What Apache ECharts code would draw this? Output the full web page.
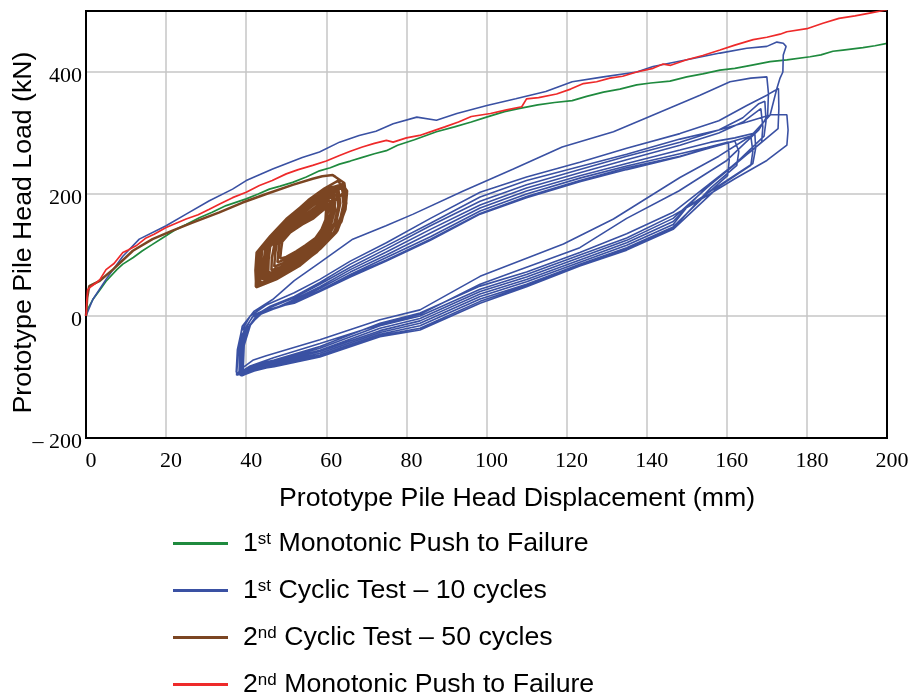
<!DOCTYPE html>
<html><head><meta charset="utf-8">
<script src="https://cdn.jsdelivr.net/npm/echarts@6/dist/echarts.min.js"></script>
<style>html,body{margin:0;padding:0;background:#fff}#c{width:911px;height:694px}</style>
</head><body><div id="c"></div>
<script>
// ---- data (displacement mm, load kN) ----
const seriesNames = ['1st Monotonic Push to Failure', '1st Cyclic Test \u2013 10 cycles', '2nd Cyclic Test \u2013 50 cycles', '2nd Monotonic Push to Failure'];
const xTickValues = [0,20,40,60,80,100,120,140,160,180,200];
const yTickValues = [-200,0,200,400];

const mono1 = [[0,0],[0.5,12],[1.7,27],[3.5,43],[5,57],[7.7,76],[9.2,85],[11.8,96],[14.1,107],[16.5,117],[19.1,128],[22.5,142],[25,150],[28.3,161],[31.5,170],[35,181],[40,192],[43,200],[45.8,208],[48.5,213],[51.6,219],[55,228],[58.3,238],[61,243],[63.3,249],[66,254],[69,260],[72,266],[75,271],[77.8,280],[82,289],[87.5,302],[92,310],[96.2,318],[100,326],[104.5,335],[108,340],[112.8,346],[117,350],[121.4,353],[125,360],[129.2,367],[133.3,372],[137.5,379],[141,382],[145.8,385],[150,392],[154,397],[158.3,403],[162,406],[166,411],[170.8,417],[175,420],[180.8,425],[183.5,428],[186.5,434],[189,436],[191.5,438],[194,440],[197,443],[200,447]];

const mono2 = [[0,0],[0.2,25],[0.4,43],[1.2,48],[2.5,54],[3.5,60],[5,76],[7,86],[9.2,104],[10.5,108],[12.5,115],[15,128],[17,134],[20,145],[22.5,152],[25,159],[28,166],[30.8,175],[33.5,184],[36.6,194],[40,203],[43.3,214],[46.5,222],[50,233],[53,240],[56.6,247],[60,254],[63.3,263],[66,270],[69,277],[72,283],[75,288],[76.7,285],[80,292],[83.3,296],[86.5,303],[89.6,310],[93,318],[96.2,327],[101,332],[105,338],[108.8,343],[110,356],[113,358],[117.5,364],[121,372],[124.2,381],[127.5,384],[130.8,390],[134,393],[137.5,400],[141.6,406],[144.1,413],[146,411],[150,420],[154,427],[158.3,436],[162,444],[166.6,453],[170,457],[173.3,462],[175,466],[180,471],[184,480],[188,488],[192,492],[196,497],[200,502]];

const cyclic1 = [
[0,0],[1.7,27],[5,60],[9.2,98],[13.3,126],[20,148],[25,167],[30.8,189],[36.6,208],[40,222],[46.6,241],[54,260],[58.3,269],[63.3,285],[68.2,296],[72.4,303],[76.7,315],[82.6,326],[87.5,321],[92.6,332],[100.1,345],[107.3,356],[114.8,368],[121.4,384],[129.2,392],[137.5,400],[141.6,409],[150,420],[158.3,431],[165,439],[170,442],[172.5,449],[174.1,447],[174.8,442],[174.1,428],[174,400],[173.3,390],[172.5,373],[170.8,329],
[166,295],[158,262],[148.3,227],[131.7,159],[119.2,118],[98.4,65],[83.4,10],[73.4,-6],[58.4,-39],[45,-65],[41.8,-72],[38.5,-88],[37.6,-97],
[37.8,-60],[38.5,-35],[39,-17],[42,8],[46.6,27],[52,58],[58.3,87],[66.6,126],[74.9,148],[81.7,167],[94.2,205],[106.7,241],[118.9,277],[131.7,302],[140,325],[153.3,362],[160.8,384],[166,390],[170,392],[170.4,365],[170.2,329],[168,305],
[160,255],[148,205],[135,160],[123.3,112],[110,80],[98.4,52],[83.4,3],[73.4,-14],[58.4,-45],[47,-68],[41,-82],[38,-94],
[37.5,-92],[37.8,-55],[38.8,-25],[41,0],[45,18],[52,38],[58.4,60],[66,90],[75,120],[86,160],[98.4,203],[110,228],[123.3,252],[135,275],[148.3,299],[158,320],[165,345],[170,362],[172.9,373],[173,340],[172.8,307],
[166,270],[158.3,230],[146.6,170],[135,135],[123.3,104],[110,72],[98.4,49],[83.4,5],[73.4,-12],[58.4,-50],[47,-72],[42,-80],[38.5,-95],
[37.6,-97],[38,-60],[39,-30],[41.5,-2],[46,16],[52,32],[58.4,55],[66,85],[75,115],[86,152],[98.4,195],[110,222],[123.3,245],[135,265],[148.3,290],[158,305],[165,318],[171,330],[175,330],[175.3,305],[175,280],
[170,255],[162,225],[152,185],[146.6,165],[135,128],[123.3,100],[110,68],[98.4,44],[83.4,0],[73.4,-16],[58.4,-53],[47,-74],[42,-82],[38.2,-96],
[38,-94],[38.4,-55],[39.5,-22],[42,2],[46,14],[52,30],[58.4,52],[66,80],[75,110],[86,148],[98.4,188],[110,215],[123.3,240],[135,262],[148.3,285],[158,305],[164,325],[168,348],[169.5,352],[169.8,320],[169.3,295],
[163,255],[155,210],[146.6,160],[135,124],[123.3,96],[110,64],[98.4,40],[83.4,-4],[73.4,-20],[58.4,-56],[47,-75],[42,-84],[38.4,-97],
[38.2,-95],[38.6,-60],[39.8,-25],[42.5,0],[47,12],[52,27],[58.4,48],[66,76],[75,105],[86,142],[98.4,182],[110,210],[123.3,235],[135,256],[148.3,280],[158,300],[164,318],[168.5,340],[169,310],[168.7,285],
[162,248],[154,205],[146.6,155],[135,120],[123.3,92],[110,60],[98.4,36],[83.4,-8],[73.4,-24],[58.4,-58],[47,-77],[42,-86],[38.6,-98],
[38.4,-96],[38.8,-58],[40,-22],[43,2],[47.5,14],[52,25],[58.4,45],[66,72],[75,100],[86,136],[98.4,177],[110,205],[123.3,230],[135,250],[148.3,272],[156,285],[162,292],[167,300],[167.2,275],[166.5,250],
[158.3,215],[150,178],[146.6,150],[135,116],[123.3,88],[110,56],[98.4,32],[83.4,-12],[73.4,-27],[58.4,-61],[47,-79],[42,-88],[38.8,-97],
[38.6,-95],[39,-55],[40.4,-20],[43.5,4],[48,14],[52,23],[58.4,42],[66,68],[75,96],[86,130],[98.4,172],[110,200],[123.3,226],[135,246],[148.3,266],[155,276],[160.4,285],[160.6,255],[160.2,230],
[155,200],[146.6,146],[135,112],[123.3,85],[110,52],[98.4,28],[83.4,-16],[73.4,-30],[58.4,-64],[47,-80],[42,-89],[39,-98],
[38.8,-96],[39.2,-50],[40.8,-15],[44,6],[48.5,16],[52,22],[58.4,40],[66,66],[75,92],[86,126],[98.4,168],[110,196],[123.3,222],[135,243],[148.3,262],[156,276],[162,287],[163,270],[162.5,247],
[156,210],[146.6,144],[135,110],[123.3,83],[110,50],[98.4,24],[83.4,-20],[73.4,-32],[58.4,-66],[47,-82],[42,-90],[39.2,-97],
[39,-94],[39.5,-48],[41.2,-12],[44.5,8],[49,17],[52,21],[58.4,40],[66,64],[75,90],[86,124],[98.4,167],[110,194],[123.3,220],[135,240],[148.3,261],[158,280],[166,295],[166.5,270],[166,247],
[158,212],[146.6,142],[135,108],[123.3,82],[110,48],[98.4,21],[83.4,-23],[73.4,-34],[58.4,-67],[47,-83],[42,-88],[39.5,-96]
];

const cyclic2 = [
[0,0],[0.3,30],[0.8,49],[3.3,57],[6.7,76],[11.7,107],[16.6,126],[21.6,140],[26.6,153],[33.3,170],[39.1,186],[45,200],[51.6,215],[56.6,225],[59,229],[61.6,231],[62.3,228],
[64.5,218],[65,195],[64.5,170],[62.5,137],[58.5,110],[53.5,83],[47.5,60],[42.5,47],[42.2,46],[42.3,75],[42.6,104],[46,131],[50,159],[55,186],[60,208],[64,216],
[65.2,205],[64.8,175],[62.8,140],[59,114],[54,87],[48,63],[43,50],[42.4,48],[42.5,78],[43,103],[46.5,130],[50.5,157],[55.5,183],[60,204],[63.8,212],
[64.5,190],[63.5,160],[61.5,132],[58,110],[53,84],[47,62],[43.5,54],[43.6,80],[44,108],[47,130],[51,155],[55,178],[59.5,200],[63,208],
[63.5,185],[62.5,155],[60.5,130],[57,106],[52,82],[47,66],[44,60],[44.2,85],[44.8,110],[47.8,130],[51.5,152],[55.5,175],[59.5,195],[62.5,204],
[63,180],[62,152],[60,128],[56.5,106],[52,86],[47.5,70],[44.8,64],[45,90],[45.5,112],[48.3,130],[52,150],[56,172],[60,192],[62,200],
[62.2,175],[61.2,150],[59.5,128],[56,108],[52,90],[48,75],[45.5,70],[45.6,92],[46,114],[48.8,132],[52.3,150],[56,168],[59.5,188],[61.5,196],
[61.5,170],[60.5,148],[58.8,128],[55.5,110],[52,94],[48.5,80],[46.3,75],[46.4,95],[47,116],[49.5,132],[52.8,150],[56.3,166],[59,182],[61,190],
[61,166],[60,146],[58.3,128],[55.3,112],[52.3,98],[49,86],[47,81],[47.2,100],[47.6,118],[50,134],[53,150],[56.3,164],[58.8,178],[60.5,185],
[60.3,162],[59.4,144],[57.8,128],[55,114],[52.3,102],[49.5,92],[47.8,88],[48,104],[48.3,120],[50.5,136],[53.5,150],[56.5,162],[58.5,173],[60,180],
[59.8,158],[58.8,142],[57.3,128],[54.8,116],[52.5,106],[50,97],[48.5,94],[48.7,108],[49,122],[51,137],[54,150],[56.8,160],[58.2,168],[59.5,175],
[64,200],[64.5,172],[62,138],[58.3,112],[53.3,85],[47.3,61],[42.8,50],[42.9,80],[43.3,106],[46.3,133],[50.3,160],[55.3,187],[60.3,210],[63.5,214],
[64.8,198],[64,168],[61.8,136],[57.8,108],[52.8,83],[47,62],[43.2,52],[43.3,85],[43.7,107],[47,133],[51,158],[55.5,182],[60,203],[64.5,210],
[65,185],[63.8,155],[61,128],[57.5,104],[52.5,80],[46.5,60],[42.7,48],[42.8,90],[43.4,110],[46.8,136],[50.8,162],[55.5,190],[59.5,209],[63,222],
[64.8,200],[64.2,170],[62,137],[58.5,112],[53.5,88],[48,66],[44.5,58],[44.6,88],[45,110],[48,131],[51.5,154],[55.5,178],[59.8,198],[62.8,205],
[63.2,182],[62.4,156],[60.3,131],[57,110],[52.5,90],[48.2,72],[45.2,67],[45.3,92],[45.8,113],[48.5,131],[52,151],[55.8,170],[59.3,190],[61.8,198],
[62,175],[61,150]
];

const colors = ['#1f8a3e', '#3a51a3', '#7b4522', '#ee2a2a'];
const widths = [1.7, 1.6, 2.5, 1.7];
const seriesData = [mono1, cyclic1, cyclic2, mono2];

const chart = echarts.init(document.getElementById('c'), null, {renderer: 'canvas'});
const sans = 'Liberation Sans, Arial, sans-serif';
const serif = 'Liberation Serif, Times New Roman, serif';

chart.setOption({
  animation: false,
  backgroundColor: '#fff',
  grid: {left: 86, right: 24, top: 11, bottom: 256, show: true, borderColor: '#000', borderWidth: 2,
    containLabel: false, outerBoundsMode: 'none', z: 5},
  xAxis: {
    type: 'value', min: 0, max: 200, interval: 20,
    name: 'Prototype Pile Head Displacement (mm)', nameLocation: 'middle', nameGap: 47,
    nameTextStyle: {fontFamily: sans, fontSize: 26.7, color: '#000', padding: [0, 0, 0, 61]},
    axisLine: {show: false}, axisTick: {show: false},
    axisLabel: {fontFamily: serif, fontSize: 22, color: '#000', margin: 12, padding: [0, 0, 0, 10]},
    splitLine: {show: true, showMinLine: false, showMaxLine: false, lineStyle: {color: '#c6c6c6', width: 1.5}}
  },
  yAxis: {
    type: 'value', min: -200, max: 500, interval: 200,
    name: 'Prototype Pile Head Load (kN)', nameLocation: 'middle', nameGap: 49, nameMoveOverlap: false,
    nameTextStyle: {fontFamily: sans, fontSize: 26.7, color: '#000', padding: [0, 16, 0, 0]},
    axisLine: {show: false}, axisTick: {show: false},
    axisLabel: {color: '#000', margin: 4,
      formatter: v => (yTickValues.indexOf(v) < 0 ? '' : '{v|' + (v < 0 ? '\u2013 ' + Math.abs(v) : String(v)) + '}'),
      rich: {v: {fontFamily: serif, fontSize: 22, color: '#000', padding: [8, 0, 0, 0]}}},
    splitLine: {show: true, showMinLine: false, showMaxLine: false, lineStyle: {color: '#c6c6c6', width: 1.5}}
  },
  legend: {
    orient: 'vertical', left: 173, top: 530, height: 220, padding: 0, itemGap: 20,
    itemWidth: 55, itemHeight: 3, icon: 'rect', selectedMode: false,
    data: seriesNames,
    formatter: name => {
      const m = name.match(/^(\d)(st|nd|rd|th)(.*)$/);
      return '{a|' + m[1] + '}{s|' + m[2] + '}{a|' + m[3] + '}';
    },
    textStyle: {
      padding: [0, 0, 0, 10],
      rich: {
        a: {fontFamily: sans, fontSize: 26.7, color: '#000', lineHeight: 26},
        s: {fontFamily: sans, fontSize: 17, color: '#000', lineHeight: 16, verticalAlign: 'top'}
      }
    }
  },
  series: seriesNames.map((n, i) => ({
    name: n, type: 'line', data: seriesData[i], symbol: 'none', showSymbol: false,
    color: colors[i], lineStyle: {color: colors[i], width: widths[i]}, clip: true, z: 2 + i
  }))
});
</script></body></html>
